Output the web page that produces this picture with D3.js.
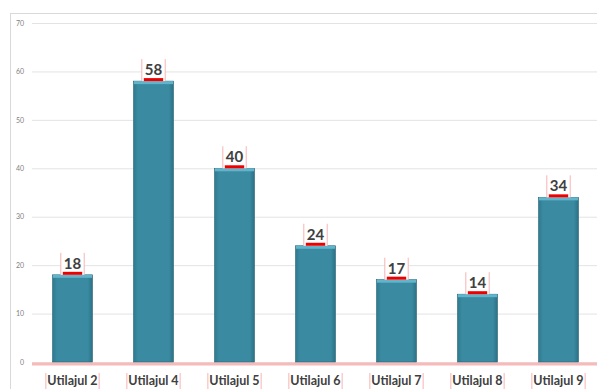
<!DOCTYPE html>
<html>
<head>
<meta charset="utf-8">
<script src="https://cdn.jsdelivr.net/npm/d3@7"></script>
<style>
  body { margin: 0; background: #fff; }
  svg { display: block; }
</style>
</head>
<body>
<div id="container"></div>
<script>
/* CONSTANTS AND GLOBALS */
const width = 597,
  height = 389,
  margin = { top: 23, bottom: 27, left: 32, right: -2 };

/* DATA */
const categories = ["Utilajul 2", "Utilajul 4", "Utilajul 5", "Utilajul 6", "Utilajul 7", "Utilajul 8", "Utilajul 9"];
const values = [18, 58, 40, 24, 17, 14, 34];
const yTicks = [0, 10, 20, 30, 40, 50, 60, 70];

const data = categories.map((c, i) => ({ name: c, value: values[i] }));

/* SCALES */
const xScale = d3.scaleBand()
  .domain(categories)
  .range([margin.left, width - margin.right])
  .paddingInner(0.506)
  .paddingOuter(0.253);

const yScale = d3.scaleLinear()
  .domain([0, 70])
  .range([height - margin.bottom, margin.top]);

/* HTML ELEMENTS */
const svg = d3.select("#container")
  .append("svg")
  .attr("width", width)
  .attr("height", height);

const defs = svg.append("defs");
const grad = defs.append("linearGradient")
  .attr("id", "barGrad")
  .attr("x1", "0%").attr("x2", "100%")
  .attr("y1", "0%").attr("y2", "0%");
grad.append("stop").attr("offset", "0%").attr("stop-color", "#2f7a8f");
grad.append("stop").attr("offset", "12%").attr("stop-color", "#3a8ba2");
grad.append("stop").attr("offset", "88%").attr("stop-color", "#3a8ba2");
grad.append("stop").attr("offset", "100%").attr("stop-color", "#2c7185");

// chart frame
svg.append("rect")
  .attr("x", 10.5)
  .attr("y", 13.5)
  .attr("width", 620)
  .attr("height", 400)
  .attr("fill", "none")
  .attr("stroke", "#d9d9d9");

// gridlines + y tick labels
const yAxis = d3.axisLeft(yScale)
  .tickValues(yTicks)
  .tickSize(-(width - margin.left + 5))
  .tickPadding(8);

const gy = svg.append("g")
  .attr("transform", `translate(${margin.left}, 0)`)
  .call(yAxis);
gy.select(".domain").remove();
gy.selectAll(".tick line").attr("stroke", "#e3e3e3");
gy.selectAll(".tick text")
  .attr("fill", "#7f7f7f")
  .attr("font-family", "Lato, 'Open Sans', sans-serif")
  .attr("font-size", 7)
  .attr("x", -8);

// x axis line (pink)
svg.append("line")
  .attr("x1", margin.left)
  .attr("x2", width + 5)
  .attr("y1", yScale(0) + 2)
  .attr("y2", yScale(0) + 2)
  .attr("stroke", "#f7b9b9")
  .attr("stroke-width", 3);

// bars
const bars = svg.selectAll(".bar")
  .data(data)
  .join("g")
  .attr("class", "bar");

bars.append("rect")
  .attr("x", d => xScale(d.name))
  .attr("y", d => yScale(d.value))
  .attr("width", xScale.bandwidth())
  .attr("height", d => yScale(0) - yScale(d.value))
  .attr("fill", "url(#barGrad)")
  .attr("stroke", "#2a6678")
  .attr("stroke-width", 0.6);

// lighter bevel on top of bar
bars.append("rect")
  .attr("x", d => xScale(d.name) + 0.5)
  .attr("y", d => yScale(d.value))
  .attr("width", xScale.bandwidth() - 1)
  .attr("height", 3)
  .attr("fill", "#62b4cb");

// value labels with white box, pink sides and red base
const labelFont = "Lato, 'Open Sans', sans-serif";
bars.each(function(d) {
  const g = d3.select(this);
  const cx = xScale(d.name) + xScale.bandwidth() / 2;
  const top = yScale(d.value);
  const t = g.append("text")
    .attr("x", cx)
    .attr("y", top - 6)
    .attr("text-anchor", "middle")
    .attr("font-family", labelFont)
    .attr("font-weight", "bold")
    .attr("font-size", 15)
    .attr("fill", "#404040")
    .text(d.value);
  const w = t.node().getComputedTextLength() + 6;
  g.insert("rect", "text")
    .attr("x", cx - w / 2)
    .attr("y", top - 22)
    .attr("width", w)
    .attr("height", 22)
    .attr("fill", "#fff");
  [cx - w / 2, cx + w / 2].forEach(x => {
    g.append("line")
      .attr("x1", x).attr("x2", x)
      .attr("y1", top - 22).attr("y2", top)
      .attr("stroke", "#f9b3b3")
      .attr("stroke-width", 1);
  });
  g.append("rect")
    .attr("x", cx - w / 2 + 2)
    .attr("y", top - 3)
    .attr("width", w - 4)
    .attr("height", 3)
    .attr("fill", "#ee0000");
});

// x labels
const xl = svg.selectAll(".xlabel")
  .data(categories)
  .join("g")
  .attr("class", "xlabel");

xl.each(function(c) {
  const g = d3.select(this);
  const cx = xScale(c) + xScale.bandwidth() / 2;
  const t = g.append("text")
    .attr("x", cx)
    .attr("y", 385)
    .attr("text-anchor", "middle")
    .attr("font-family", labelFont)
    .attr("font-weight", "bold")
    .attr("font-size", 12.5)
    .attr("fill", "#404040")
    .text(c);
  const w = t.node().getComputedTextLength() + 3;
  [cx - w / 2, cx + w / 2].forEach(x => {
    g.append("line")
      .attr("x1", x).attr("x2", x)
      .attr("y1", 373).attr("y2", 389)
      .attr("stroke", "#f9b3b3")
      .attr("stroke-width", 1);
  });
});
</script>
</body>
</html>
